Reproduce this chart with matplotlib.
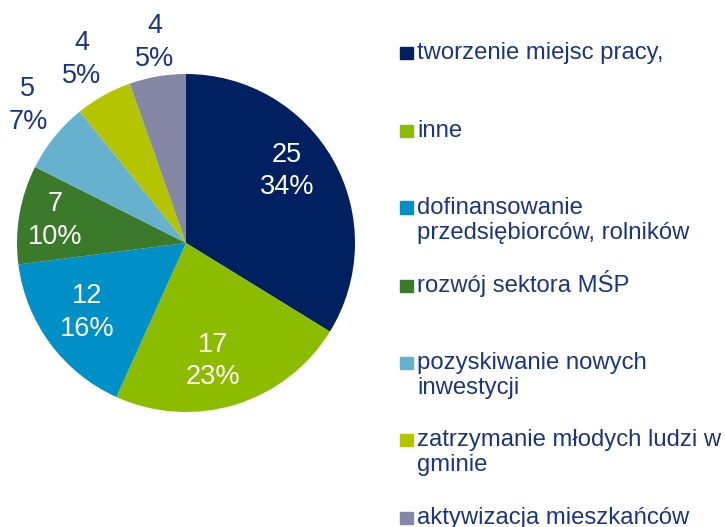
import numpy as np
import matplotlib.pyplot as plt
from matplotlib.patches import Rectangle

plt.rcParams['font.family'] = ['Liberation Sans', 'DejaVu Sans']

# Data
labels = ['tworzenie miejsc pracy,', 'inne', 'dofinansowanie\nprzedsiębiorców, rolników',
          'rozwój sektora MŚP', 'pozyskiwanie nowych\ninwestycji',
          'zatrzymanie młodych ludzi w\ngminie', 'aktywizacja mieszkańców']
values = [25, 17, 12, 7, 5, 4, 4]
pct_labels = ['34%', '23%', '16%', '10%', '7%', '5%', '5%']
colors = ['#002060', '#8CBC00', '#0090C8', '#3A7A2A', '#66B2CE', '#B5C400', '#8488A5']
text_color = '#1A3585'

W, H = 725, 527
fig = plt.figure(figsize=(W / 100, H / 100), dpi=100)

# pie centre (186, 243) px, radius 169 px
cx, cy, r = 186, 243, 169
ax = fig.add_axes([(cx - r) / W, (H - cy - r) / H, 2 * r / W, 2 * r / H])
ax.pie(values, colors=colors, startangle=90, counterclock=False,
       radius=1, center=(0, 0), frame=False)
ax.set_xlim(-1, 1)
ax.set_ylim(-1, 1)
ax.axis('off')

# label distance (in radii) and small angle nudge (deg) per slice
label_r = [0.734, 0.716, 0.716, 0.786, 1.24, 1.25, 1.20]
label_da = [6.3, -4.0, -1.4, 0.0, -2.1, 0.4, -0.9]
for w, v, p, lr, da in zip(ax.patches, values, pct_labels, label_r, label_da):
    ang = np.deg2rad((w.theta1 + w.theta2) / 2 + da)
    col = 'white' if lr < 1 else text_color
    ax.text(lr * np.cos(ang), lr * np.sin(ang), f'{v}\n{p}', ha='center', va='center',
            fontsize=19.5, color=col, linespacing=1.33, clip_on=False)

# Legend, drawn by hand (one text per line, first baseline at the square's bottom)
legend_base = [59, 137, 214, 292, 369, 446, 524]
for lab, c, y in zip(labels, colors, legend_base):
    fig.patches.append(Rectangle((400 / W, 1 - y / H), 12.5 / W, 12.5 / H,
                                 transform=fig.transFigure, color=c))
    for i, line in enumerate(lab.split('\n')):
        fig.text(417 / W, 1 - (y + 25 * i) / H, line, ha='left', va='baseline',
                 fontsize=17.2, color=text_color)

fig.savefig('out.png', dpi=100)
